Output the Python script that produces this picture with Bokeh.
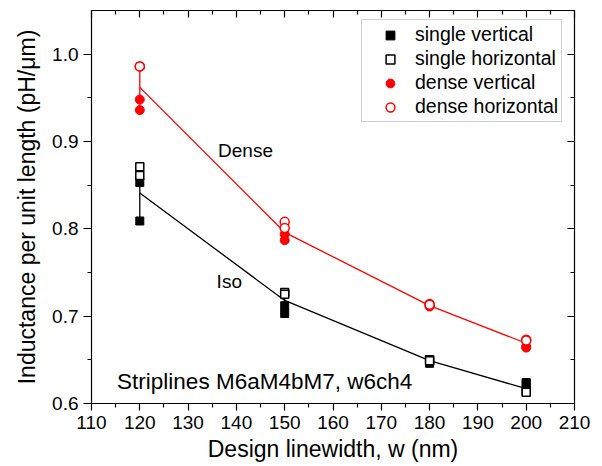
import numpy as np
from bokeh.plotting import figure
from bokeh.models import (Range1d, LinearAxis, FixedTicker, Legend, LegendItem,
                          Label, NumeralTickFormatter)
from bokeh.embed import file_html
from bokeh.resources import INLINE

# ---- data ----
widths = [120, 150, 180, 200]
single_vertical_a = [0.853, 0.712, 0.647, 0.624]
single_vertical_b = [0.809, 0.703, 0.646, 0.623]
single_horizontal_a = [0.871, 0.727, 0.650, 0.614]
single_horizontal_b = [0.861, 0.725, 0.649, 0.613]
dense_vertical_a = [0.948, 0.794, 0.712, 0.665]
dense_vertical_b = [0.936, 0.787, 0.711, 0.664]
dense_horizontal_a = [0.986, 0.808, 0.714, 0.673]
dense_horizontal_b = [0.986, 0.801, 0.713, 0.672]
dense_fit = [0.962, 0.796, 0.712, 0.669]
iso_fit = [0.841, 0.718, 0.649, 0.617]

x_ticks = [110, 120, 130, 140, 150, 160, 170, 180, 190, 200, 210]
x_minor = [115, 125, 135, 145, 155, 165, 175, 185, 195, 205]
y_ticks = [0.6, 0.7, 0.8, 0.9, 1.0]
y_minor = [0.65, 0.75, 0.85, 0.95]

FONT = "Liberation Sans"
RED = "#FF0000"

p = figure(width=602, height=466, output_backend="svg", toolbar_location=None,
           x_range=Range1d(110, 210), y_range=Range1d(0.6, 1.05),
           min_border_left=91, min_border_right=28, min_border_top=10,
           min_border_bottom=63,
           x_axis_label="Design linewidth, w (nm)",
           y_axis_label="Inductance per unit length (pH/\u03bcm)")
p.grid.visible = False
p.outline_line_color = "black"
p.background_fill_color = "white"
p.border_fill_color = "white"


def style_axis(ax, ticks, minor, labels=True, inward=False):
    ax.ticker = FixedTicker(ticks=ticks, minor_ticks=minor)
    ax.axis_line_color = "black"
    ax.axis_line_width = 1.2
    ax.major_tick_line_color = "black"
    ax.minor_tick_line_color = "black"
    ax.major_tick_line_width = 1.2
    ax.minor_tick_line_width = 1.2
    if inward:
        ax.major_tick_in = 7
        ax.major_tick_out = 0
        ax.minor_tick_in = 4
        ax.minor_tick_out = 0
    else:
        ax.major_tick_in = 0
        ax.major_tick_out = 7
        ax.minor_tick_in = 0
        ax.minor_tick_out = 4
    if labels:
        ax.major_label_text_font = FONT
        ax.major_label_text_font_size = "19px"
        ax.major_label_text_color = "black"
        ax.major_label_standoff = 5
        ax.axis_label_text_font = FONT
        ax.axis_label_text_font_size = "23px"
        ax.axis_label_text_font_style = "normal"
        ax.axis_label_text_color = "black"
    else:
        ax.major_label_overrides = {t: "" for t in ticks}
        ax.major_label_text_font_size = "1px"
        ax.major_label_standoff = 0


style_axis(p.xaxis[0], x_ticks, x_minor)
style_axis(p.yaxis[0], y_ticks, y_minor)
p.yaxis[0].formatter = NumeralTickFormatter(format="0.0")
p.yaxis[0].major_tick_out = 8
p.xaxis[0].axis_label_standoff = 4
p.yaxis[0].axis_label_standoff = 9

top_ax = LinearAxis()
style_axis(top_ax, x_ticks, x_minor, labels=False, inward=True)
p.add_layout(top_ax, "above")
right_ax = LinearAxis()
style_axis(right_ax, y_ticks, y_minor, labels=False, inward=True)
p.add_layout(right_ax, "right")

# ---- range bars and fit lines ----
dense_all = np.array([dense_vertical_a, dense_vertical_b,
                      dense_horizontal_a, dense_horizontal_b])
single_all = np.array([single_vertical_a, single_vertical_b,
                       single_horizontal_a, single_horizontal_b])
p.segment(x0=widths, x1=widths, y0=dense_all.min(axis=0), y1=dense_all.max(axis=0),
          line_color=RED, line_width=1.3)
p.segment(x0=widths, x1=widths, y0=single_all.min(axis=0), y1=single_all.max(axis=0),
          line_color="black", line_width=1.3)
p.line(widths, dense_fit, line_color=RED, line_width=1.3)
p.line(widths, iso_fit, line_color="black", line_width=1.3)

# ---- markers ----
x2 = widths + widths
r_sv = p.scatter(x2, single_vertical_a + single_vertical_b, marker="square", size=8,
                 fill_color="black", line_color="black", line_width=1)
r_sh = p.scatter(x2, single_horizontal_a + single_horizontal_b, marker="square", size=8,
                 fill_color="white", line_color="black", line_width=1.5)
r_dv = p.scatter(x2, dense_vertical_a + dense_vertical_b, marker="circle", size=9,
                 fill_color=RED, line_color=RED, line_width=1)
r_dh = p.scatter(x2, dense_horizontal_a + dense_horizontal_b, marker="circle", size=9,
                 fill_color="white", line_color=RED, line_width=1.5)

legend = Legend(items=[
    LegendItem(label="single vertical", renderers=[r_sv]),
    LegendItem(label="single horizontal", renderers=[r_sh]),
    LegendItem(label="dense vertical", renderers=[r_dv]),
    LegendItem(label="dense horizontal", renderers=[r_dh]),
], location=(270, 281))
legend.label_text_font = FONT
legend.label_text_font_size = "19.5px"
legend.label_text_color = "black"
legend.border_line_color = "#a0a0a0"
legend.border_line_width = 1
legend.padding = 3
legend.spacing = 1
legend.glyph_width = 50
legend.glyph_height = 22
legend.label_height = 22
legend.label_standoff = 0
legend.margin = 0
legend.background_fill_color = "white"
legend.background_fill_alpha = 1
p.add_layout(legend)

# in-plot annotations
for txt, lx, ly, fs in [("Dense", 136.2, 0.8898, "19px"), ("Iso", 135.9, 0.7397, "19px"),
                        ("Striplines M6aM4bM7, w6ch4", 115.3, 0.6249, "22.5px")]:
    p.add_layout(Label(x=lx, y=ly, text=txt, text_font=FONT, text_font_size=fs,
                       text_color="black", text_baseline="alphabetic"))

open("out.html", "w").write(file_html(p, INLINE))
